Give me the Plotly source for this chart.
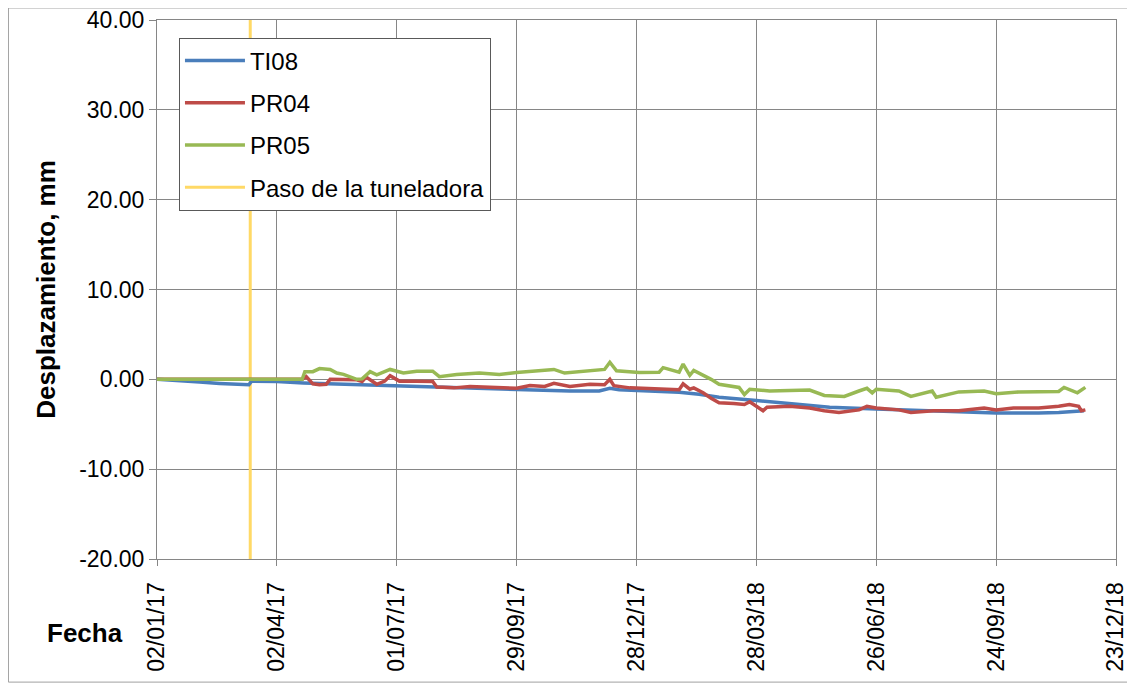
import plotly.graph_objects as go

### DATA ###

ti08_fecha = ["2017-01-02", "2017-01-19", "2017-02-03", "2017-02-18", "2017-03-09", "2017-03-12",
              "2017-03-14", "2017-04-02", "2017-04-22", "2017-05-27", "2017-07-03", "2017-08-10",
              "2017-09-01", "2017-09-29", "2017-11-08", "2017-11-30", "2017-12-08", "2017-12-15",
              "2017-12-30", "2018-01-29", "2018-02-13", "2018-02-28", "2018-03-28", "2018-04-22",
              "2018-05-22", "2018-06-26", "2018-07-28", "2018-08-20", "2018-09-24", "2018-10-26",
              "2018-11-10", "2018-11-29"]
ti08_valor = [0.0, -0.2, -0.3, -0.45, -0.65, -0.6,
              -0.2, -0.25, -0.4, -0.55, -0.75, -0.9,
              -1.05, -1.15, -1.3, -1.3, -1.0, -1.15,
              -1.25, -1.45, -1.65, -2.0, -2.35, -2.65,
              -3.1, -3.3, -3.45, -3.55, -3.75, -3.75,
              -3.7, -3.5]

pr04_fecha = ["2017-01-02", "2017-04-21", "2017-04-24", "2017-04-29", "2017-05-04", "2017-05-09",
              "2017-05-12", "2017-05-19", "2017-05-27", "2017-06-01", "2017-06-05", "2017-06-08",
              "2017-06-16", "2017-06-22", "2017-06-26", "2017-07-03", "2017-07-16", "2017-07-28",
              "2017-07-31", "2017-08-13", "2017-08-25", "2017-09-09", "2017-09-29", "2017-10-09",
              "2017-10-20", "2017-10-27", "2017-11-08", "2017-11-23", "2017-12-04", "2017-12-08",
              "2017-12-11", "2017-12-23", "2017-12-30", "2018-01-14", "2018-01-29", "2018-02-01",
              "2018-02-06", "2018-02-09", "2018-02-16", "2018-02-22", "2018-02-28", "2018-03-11",
              "2018-03-19", "2018-03-23", "2018-03-28", "2018-04-02", "2018-04-05", "2018-04-22",
              "2018-05-07", "2018-05-18", "2018-05-29", "2018-06-13", "2018-06-19", "2018-06-26",
              "2018-07-13", "2018-07-22", "2018-08-08", "2018-08-27", "2018-09-15", "2018-09-24",
              "2018-10-07", "2018-10-26", "2018-11-10", "2018-11-18", "2018-11-25", "2018-11-27",
              "2018-11-30"]
pr04_valor = [0.0, 0.0, 0.3, -0.5, -0.6, -0.55,
              0.0, -0.05, -0.1, -0.05, -0.25, 0.25,
              -0.55, -0.2, 0.4, -0.2, -0.2, -0.25,
              -0.85, -0.95, -0.8, -0.9, -1.0, -0.7,
              -0.8, -0.45, -0.8, -0.55, -0.6, 0.0,
              -0.7, -0.95, -1.0, -1.1, -1.15, -0.5,
              -1.1, -0.95, -1.5, -2.1, -2.6, -2.7,
              -2.8, -2.5, -3.0, -3.5, -3.1, -3.0,
              -3.2, -3.5, -3.7, -3.4, -3.0, -3.2,
              -3.4, -3.7, -3.5, -3.5, -3.2, -3.4,
              -3.2, -3.2, -3.0, -2.8, -3.0, -3.5,
              -3.4]

pr05_fecha = ["2017-01-02", "2017-04-21", "2017-04-23", "2017-04-29", "2017-05-04", "2017-05-12",
              "2017-05-17", "2017-05-22", "2017-06-01", "2017-06-05", "2017-06-11", "2017-06-16",
              "2017-06-26", "2017-07-06", "2017-07-16", "2017-07-28", "2017-08-02", "2017-08-15",
              "2017-09-01", "2017-09-16", "2017-09-29", "2017-10-09", "2017-10-27", "2017-11-04",
              "2017-11-23", "2017-12-04", "2017-12-08", "2017-12-13", "2017-12-30", "2018-01-14",
              "2018-01-17", "2018-01-29", "2018-02-01", "2018-02-06", "2018-02-09", "2018-02-17",
              "2018-02-22", "2018-02-28", "2018-03-11", "2018-03-15", "2018-03-19", "2018-03-23",
              "2018-04-07", "2018-04-22", "2018-05-07", "2018-05-18", "2018-06-02", "2018-06-13",
              "2018-06-19", "2018-06-23", "2018-06-26", "2018-07-13", "2018-07-22", "2018-08-07",
              "2018-08-10", "2018-08-27", "2018-09-15", "2018-09-24", "2018-10-11", "2018-11-10",
              "2018-11-14", "2018-11-24", "2018-11-30"]
pr05_valor = [0.0, 0.0, 0.85, 0.85, 1.2, 1.1,
              0.7, 0.55, 0.0, 0.05, 0.85, 0.5,
              1.1, 0.7, 0.9, 0.9, 0.3, 0.55,
              0.7, 0.55, 0.75, 0.9, 1.1, 0.7,
              0.95, 1.1, 1.9, 0.95, 0.75, 0.8,
              1.3, 0.8, 1.7, 0.45, 1.0, 0.4,
              0.0, -0.55, -0.75, -0.9, -1.7, -1.1,
              -1.3, -1.25, -1.2, -1.8, -1.9, -1.3,
              -1.0, -1.5, -1.1, -1.3, -1.9, -1.3,
              -2.0, -1.4, -1.3, -1.6, -1.4, -1.35,
              -0.9, -1.5, -0.9]

paso_tuneladora = "2017-03-13"
y_rango = [-20, 40]
y_ticks = [-20, -10, 0, 10, 20, 30, 40]
y_ticktext = ["-20.00", "-10.00", "0.00", "10.00", "20.00", "30.00", "40.00"]
x_rango = ["2017-01-02", "2018-12-23"]

### FIGURE ###

fig = go.Figure()

fig.add_trace(go.Scatter(x=[paso_tuneladora, paso_tuneladora], y=y_rango, mode="lines",
                         name="Paso de la tuneladora", legendrank=4, legendgroup="d",
                         line=dict(color="#FFD966", width=3)))
fig.add_trace(go.Scatter(x=ti08_fecha, y=ti08_valor, mode="lines", name="TI08",
                         legendrank=1, legendgroup="a", line=dict(color="#4A7EBB", width=3.5)))
fig.add_trace(go.Scatter(x=pr04_fecha, y=pr04_valor, mode="lines", name="PR04",
                         legendrank=2, legendgroup="b", line=dict(color="#BE4B48", width=3.5)))
fig.add_trace(go.Scatter(x=pr05_fecha, y=pr05_valor, mode="lines", name="PR05",
                         legendrank=3, legendgroup="c", line=dict(color="#98B954", width=3.5)))

# the page has an 8px body margin, so the figure is 8px smaller than the window
grid = "#868686"
fig.update_layout(
    width=1127, height=675,
    margin=dict(l=149, r=19, t=12, b=124),
    paper_bgcolor="white", plot_bgcolor="white",
    font=dict(family="Arial, Liberation Sans", size=23, color="black"),
    legend=dict(x=0.0229, y=0.9675, xanchor="left", yanchor="top",
                bordercolor="#595959", borderwidth=1, bgcolor="white",
                tracegroupgap=8, itemwidth=60, font=dict(size=24)),
    xaxis=dict(range=x_rango, tick0=x_rango[0], dtick=90 * 86400000, tickformat="%d/%m/%y",
               tickangle=-90, showgrid=True, gridcolor=grid, gridwidth=1, automargin=False,
               showline=True, linecolor=grid, linewidth=1, mirror=True, ticklabelstandoff=7,
               ticklabeloverflow="allow",
               ticks="outside", ticklen=6, tickcolor=grid, zeroline=False),
    yaxis=dict(range=y_rango, tickvals=y_ticks, ticktext=y_ticktext, showgrid=True,
               gridcolor=grid, automargin=False, ticklabeloverflow="allow",
               showline=True, linecolor=grid, linewidth=1, mirror=True,
               ticks="outside", ticklen=7, tickcolor=grid, zeroline=False,
               title=dict(text="<b>Desplazamiento, mm</b>", font=dict(size=26), standoff=16)),
    annotations=[dict(text="<b>Fecha</b>", xref="paper", yref="paper", x=-0.0755, y=-0.1374,
                      xanchor="center", yanchor="middle", showarrow=False, font=dict(size=26))],
    shapes=[dict(type="rect", xref="paper", yref="paper", x0=-0.1549, x1=1.0188,
                 y0=-0.2284, y1=1.0223, line=dict(color="#A0A0A0", width=1))],
)

fig.write_html("out.html")
